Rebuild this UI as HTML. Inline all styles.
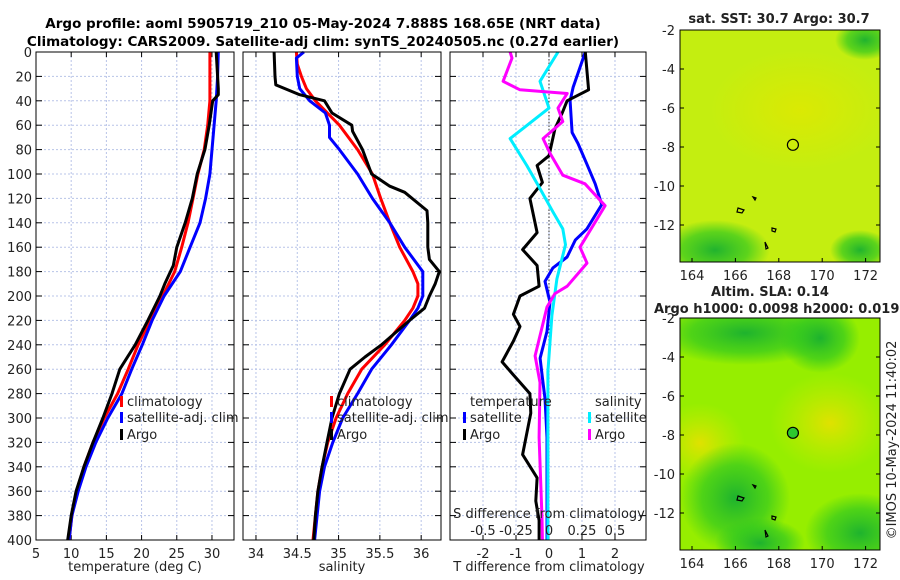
<!DOCTYPE html>
<html><head><meta charset="utf-8"><style>
body{margin:0;background:#fff;}
svg{display:block;font-family:"DejaVu Sans","Liberation Sans",sans-serif;}
</style></head><body>
<svg id="c" width="900" height="580" viewBox="0 0 900 580" xmlns="http://www.w3.org/2000/svg">
<defs>
<radialGradient id="y1" cx="0.5" cy="0.5" r="0.5"><stop offset="0" stop-color="#e0e800" stop-opacity="0.8"/><stop offset="1" stop-color="#e0e800" stop-opacity="0"/></radialGradient>
<radialGradient id="g1" cx="0.5" cy="0.5" r="0.5"><stop offset="0" stop-color="#18b030" stop-opacity="0.95"/><stop offset="0.6" stop-color="#30c820" stop-opacity="0.7"/><stop offset="1" stop-color="#30c820" stop-opacity="0"/></radialGradient>
<radialGradient id="y2" cx="0.5" cy="0.5" r="0.5"><stop offset="0" stop-color="#e8e000" stop-opacity="0.9"/><stop offset="1" stop-color="#d0ec00" stop-opacity="0"/></radialGradient>
<clipPath id="clip-sst"><rect x="680" y="30" width="200" height="232"/></clipPath>
<clipPath id="clip-sla"><rect x="680" y="318" width="200" height="232"/></clipPath>
</defs>
<g font-weight="bold" font-size="13.5" text-anchor="middle">
<text x="323" y="28">Argo profile: aoml 5905719_210 05-May-2024 7.888S 168.65E (NRT data)</text>
<text x="323" y="46">Climatology: CARS2009. Satellite-adj clim: synTS_20240505.nc (0.27d earlier)</text>
</g>
<g id="p1"></g>
<g id="p2"></g>
<g id="p3"></g>
<g id="maps"></g>
</svg>
<script>
const depths=[0,20,40,60,80,100,120,140,160,180,200,220,240,260,280,300,320,340,360,380,400];
const tClim=[29.7,29.7,29.7,29.4,28.9,28.0,27.3,26.6,25.7,24.7,23.0,21.2,19.5,18.1,16.6,14.7,13.1,11.8,10.8,10.1,9.7];
const tSat=[30.9,30.8,30.6,30.3,30.0,29.7,29.1,28.3,26.9,25.5,23.2,21.5,20.1,18.6,17.2,15.2,13.5,12.1,11.0,10.1,9.7];
const argoTDepth=[0,30,35,40,60,80,100,120,140,160,175,190,200,220,240,260,280,300,320,340,360,380,400];
const argoT=[30.6,30.9,30.9,30.1,29.6,29.0,27.9,27.2,26.2,25.0,24.5,23.3,22.6,20.9,19.1,16.9,15.8,14.5,13.1,11.8,10.7,10.0,9.5];
const sDepth=[0,10,20,30,40,60,80,100,120,140,160,180,190,200,210,220,240,260,280,300,320,340,360,380,400];
const sClim=[34.49,34.50,34.55,34.61,34.72,35.01,35.23,35.41,35.51,35.62,35.74,35.90,35.96,35.96,35.90,35.80,35.56,35.28,35.11,34.97,34.87,34.80,34.75,34.72,34.69];
const sSatDepth=[0,5,20,30,40,50,60,70,80,100,120,140,160,180,200,210,220,240,260,280,300,320,340,360,380,400];
const sSat=[34.58,34.49,34.50,34.53,34.65,34.84,34.89,34.89,35.01,35.23,35.41,35.62,35.80,36.02,36.02,35.96,35.86,35.64,35.40,35.23,35.05,34.93,34.83,34.77,34.74,34.71];
const argoSDepth=[0,20,27,30,35,40,50,60,65,80,100,110,115,130,140,160,170,180,190,200,210,220,240,250,260,280,300,320,340,360,380,400];
const argoS=[34.22,34.23,34.24,34.35,34.53,34.83,34.92,35.16,35.17,35.29,35.40,35.62,35.80,36.07,36.08,36.08,36.10,36.22,36.17,36.10,36.04,35.86,35.52,35.32,35.14,35.01,34.92,34.86,34.80,34.75,34.72,34.70];
const dTSatDepth=[0,29,40,66,75,92,108,125,145,154,168,177,188,205,229,251,267,284,316,400];
const dTSat=[1.1,0.73,0.64,0.7,0.88,1.15,1.4,1.6,1.15,0.8,0.55,0.12,-0.12,0.03,-0.06,-0.27,-0.2,-0.12,-0.06,-0.06];
const dTArgoDepth=[0,31,40,50,63,85,93,107,120,148,162,175,192,200,215,225,237,254,264,280,296,330,349,368,384,400];
const dTArgo=[1.1,1.2,0.55,0.4,0.18,0,-0.36,-0.2,-0.58,-0.36,-0.8,-0.36,-0.3,-0.88,-1.08,-0.88,-1.08,-1.42,-1.1,-0.58,-0.55,-0.8,-0.36,-0.4,-0.3,-0.3];
const dSSatDepth=[0,24,46,71,93,112,131,145,158,186,216,262,400];
const dSSat=[0.068,-0.068,0,-0.295,-0.168,-0.068,0.03,0.105,0.125,0.06,0.022,-0.008,-0.008];
const dSArgoDepth=[0,5,24,31,34,46,57,71,83,101,108,126,160,173,192,198,209,249,271,316,382,400];
const dSArgo=[-0.295,-0.28,-0.348,-0.22,0.138,0.068,0.105,-0.045,0.008,0.105,0.273,0.425,0.235,0.288,0.138,0.045,-0.015,-0.105,-0.068,-0.075,-0.053,-0.05];
const depthTicks=[0,20,40,60,80,100,120,140,160,180,200,220,240,260,280,300,320,340,360,380,400];
const tTicks=[5,10,15,20,25,30];
const sTicks=[34,34.5,35,35.5,36];
const dTTicks=[-2,-1,0,1,2];
const dSTicks=[-0.5,-0.25,0,0.25,0.5];
const dSTickLabels=["-0.5","-0.25","0","0.25","0.5"];
const lonTicks=[164,166,168,170,172];
const latTicks=[-2,-4,-6,-8,-10,-12];

const NS="http://www.w3.org/2000/svg";
function mk(tag,attrs,parent){const e=document.createElementNS(NS,tag);for(const k in attrs)e.setAttribute(k,attrs[k]);parent.appendChild(e);return e;}
const Y0=52,Y1=540;
const yD=d=>Y0+(d/400)*(Y1-Y0);

function panel(g,x0,x1,xmin,xmax,xticks,labels,leftLabels){
  const xs=v=>x0+(v-xmin)/(xmax-xmin)*(x1-x0);
  mk('rect',{x:x0,y:Y0,width:x1-x0,height:Y1-Y0,fill:'#fff'},g);
  xticks.forEach((v,i)=>{
    const X=xs(v);
    const l=mk('line',{x1:X,x2:X,y1:Y0,y2:Y1,stroke:'#b8c4e8','stroke-dasharray':'2,2','stroke-width':1},g);
    
    
    mk('line',{x1:X,x2:X,y1:Y1,y2:Y1-5,stroke:'#000'},g);
    mk('line',{x1:X,x2:X,y1:Y0,y2:Y0+5,stroke:'#000'},g);
    if(labels){const t=mk('text',{x:X,y:Y1+18,'font-size':13,'text-anchor':'middle',fill:'#222'},g);t.textContent=labels[i];
    
    }
  });
  depthTicks.forEach(d=>{
    const Y=yD(d);
    const l=mk('line',{x1:x0,x2:x1,y1:Y,y2:Y,stroke:'#b8c4e8','stroke-dasharray':'2,2','stroke-width':1},g);
    
    
    mk('line',{x1:x0,x2:x0+6,y1:Y,y2:Y,stroke:'#000'},g);
    mk('line',{x1:x1,x2:x1-6,y1:Y,y2:Y,stroke:'#000'},g);
    if(leftLabels){const t=mk('text',{x:x0-4,y:Y+5,'font-size':13,'text-anchor':'end',fill:'#222'},g);t.textContent=d;
    
    }
  });
  return xs;
}
function line(g,xs,vals,ds,color,name,w){
  const pts=vals.map((v,i)=>xs(v).toFixed(1)+','+yD(ds[i]).toFixed(1)).join(' ');
  const p=mk('polyline',{points:pts,fill:'none',stroke:color,'stroke-width':w||3,'stroke-linejoin':'round'},g);
  
  
}
function frame(g,x0,x1){mk('rect',{x:x0,y:Y0,width:x1-x0,height:Y1-Y0,fill:'none',stroke:'#000','stroke-width':1},g);}
function legend(g,x,y,color,label){
  const r=mk('rect',{x:x,y:y-10,width:3,height:11,fill:color},g);
  
  
  const t=mk('text',{x:x+7,y:y,'font-size':13,fill:'#222'},g);t.textContent=label;
  
  
}
function text(g,x,y,s,name,extra){const t=mk('text',Object.assign({x:x,y:y,'font-size':13,fill:'#222'},extra||{}),g);t.textContent=s;
  
  return t;}

// panel 1
const g1=document.getElementById('p1');
const x1s=panel(g1,36,234,5,33.13,tTicks,tTicks.map(String),true);
line(g1,x1s,tClim,depths,'#f00','climatology-temperature-line');
line(g1,x1s,tSat,depths,'#00f','satellite-temperature-line');
line(g1,x1s,argoT,argoTDepth,'#000','argo-temperature-line');
frame(g1,36,234);
legend(g1,120,406,'#f00','climatology');
legend(g1,120,422,'#00f','satellite-adj. clim');
legend(g1,120,439,'#000','Argo');
text(g1,135,571,'temperature (deg C)','x-axis-title',{'text-anchor':'middle'});

// panel 2
const g2=document.getElementById('p2');
const x2s=panel(g2,243,441,33.843,36.24,sTicks,sTicks.map(String),false);
line(g2,x2s,sClim,sDepth,'#f00','climatology-salinity-line');
line(g2,x2s,sSat,sSatDepth,'#00f','satellite-salinity-line');
line(g2,x2s,argoS,argoSDepth,'#000','argo-salinity-line');
frame(g2,243,441);
legend(g2,330,406,'#f00','climatology');
legend(g2,330,422,'#00f','satellite-adj. clim');
legend(g2,330,439,'#000','Argo');
text(g2,342,571,'salinity','x-axis-title',{'text-anchor':'middle'});

// panel 3
const g3=document.getElementById('p3');
const x3s=panel(g3,450,646,-3,2.94,dTTicks,dTTicks.map(String),false);
const xS=v=>x3s(v*4);
mk('line',{x1:x3s(0),x2:x3s(0),y1:Y0,y2:Y1,stroke:'#333','stroke-dasharray':'1.5,2'},g3);
line(g3,x3s,dTSat,dTSatDepth,'#00f','satellite-temperature-diff-line');
line(g3,x3s,dTArgo,dTArgoDepth,'#000','argo-temperature-diff-line');
line(g3,xS,dSSat,dSSatDepth,'#0ef','satellite-salinity-diff-line');
line(g3,xS,dSArgo,dSArgoDepth,'#f0f','argo-salinity-diff-line');
frame(g3,450,646);
text(g3,470,406,'temperature','legend-title');
legend(g3,463,422,'#00f','satellite');
legend(g3,463,439,'#000','Argo');
text(g3,595,406,'salinity','legend-title');
legend(g3,588,422,'#0ef','satellite');
legend(g3,588,439,'#f0f','Argo');
text(g3,549,518,'S difference from climatology','s-axis-title',{'text-anchor':'middle'});
dSTicks.forEach((v,i)=>{text(g3,xS(v),535,dSTickLabels[i],'s-tick-label',{'text-anchor':'middle'});});
text(g3,549,571,'T difference from climatology','x-axis-title',{'text-anchor':'middle'});

// maps
const gm=document.getElementById('maps');
function map(top,bottom,kind){
  const x0=680,x1=880,y0=top,y1=bottom;
  const lonS=v=>692+(v-164)*21.7;
  const latS=v=>y0+(-2-v)*19.5;
  const cg=mk('g',{'clip-path':'url(#clip-'+kind+')'},gm);
  
  
  mk('rect',{x:x0,y:y0,width:x1-x0,height:y1-y0,fill:kind==='sst'?'#c4ee10':'#96ee00'},cg);
  if(kind==='sst'){
    mk('ellipse',{cx:800,cy:y0+80,rx:90,ry:60,fill:'url(#y1)'},cg);
    mk('ellipse',{cx:715,cy:y0+220,rx:55,ry:30,fill:'url(#g1)'},cg);
    mk('ellipse',{cx:865,cy:y0+10,rx:30,ry:20,fill:'url(#g1)'},cg);
    mk('ellipse',{cx:860,cy:y0+220,rx:30,ry:20,fill:'url(#g1)'},cg);
  } else {
    mk('ellipse',{cx:745,cy:y0+15,rx:90,ry:32,fill:'url(#g1)'},cg);
    mk('ellipse',{cx:820,cy:y0+20,rx:40,ry:35,fill:'url(#g1)'},cg);
    mk('ellipse',{cx:700,cy:y0+125,rx:45,ry:40,fill:'url(#y2)'},cg);
    mk('ellipse',{cx:830,cy:y0+105,rx:60,ry:50,fill:'url(#y2)'},cg);
    mk('ellipse',{cx:735,cy:y0+180,rx:55,ry:55,fill:'url(#g1)'},cg);
    mk('ellipse',{cx:760,cy:y0+225,rx:45,ry:25,fill:'url(#g1)'},cg);
    mk('ellipse',{cx:860,cy:y0+215,rx:55,ry:40,fill:'url(#g1)'},cg);
  }
  ['M738,y+178 l6,2 -2,3 -5,-1z','M753,y+167 l3,1 -1,2z','M772,y+198 l4,1 -1,3 -3,-1z','M765,y+212 l3,6 -2,1z'].forEach(d=>{
    mk('path',{d:d.replace(/y\+(\d+)/,(m,n)=>(y0+ +n)),fill:'none',stroke:'#000','stroke-width':1.2},cg);
  });
  const c=mk('circle',{cx:lonS(168.65),cy:latS(-7.888),r:5.5,fill:kind==='sst'?'none':'#2ec82e',stroke:'#000','stroke-width':1.2},gm);
  
  
  mk('rect',{x:x0,y:y0,width:x1-x0,height:y1-y0,fill:'none',stroke:'#000'},gm);
  lonTicks.forEach(v=>{mk('line',{x1:lonS(v),x2:lonS(v),y1:y1,y2:y1-4,stroke:'#000'},gm);
    text(gm,lonS(v),y1+18,String(v),'lon-tick-label',{'text-anchor':'middle'});});
  latTicks.forEach(v=>{mk('line',{x1:x0,x2:x0+4,y1:latS(v),y2:latS(v),stroke:'#000'},gm);
    mk('line',{x1:x1,x2:x1-4,y1:latS(v),y2:latS(v),stroke:'#000'},gm);
    text(gm,x0-5,latS(v)+5,String(v),'lat-tick-label',{'text-anchor':'end'});});
}
map(30,262,'sst');
map(318,550,'sla');
text(gm,779,23,'sat. SST: 30.7 Argo: 30.7','sst-map-title',{'text-anchor':'middle','font-weight':'bold'});
text(gm,770,296,'Altim. SLA: 0.14','sla-map-title',{'text-anchor':'middle','font-weight':'bold'});
text(gm,654,313,'Argo h1000: 0.0098 h2000: 0.019','sla-map-subtitle',{'font-weight':'bold'});
text(gm,0,0,'©IMOS 10-May-2024 11:40:02','timestamp',{transform:'translate(896,440) rotate(-90)','text-anchor':'middle'});
</script>
</body></html>
